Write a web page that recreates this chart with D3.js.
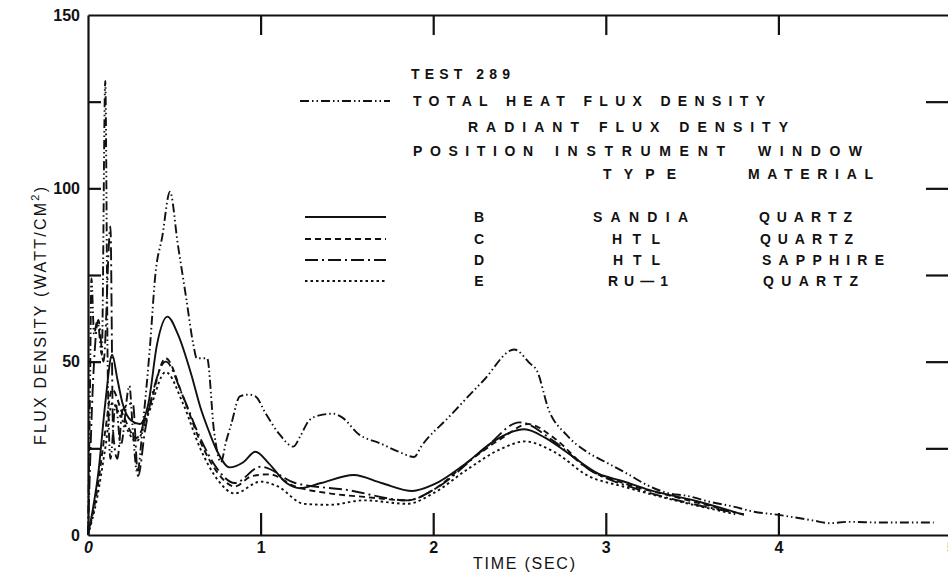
<!DOCTYPE html>
<html>
<head>
<meta charset="utf-8">
<script src="https://cdn.jsdelivr.net/npm/d3@7"></script>
<style>
  html, body { margin: 0; padding: 0; background: #fff; }
  svg { display: block; }
  text { font-family: "Liberation Sans", Arial, Helvetica, sans-serif; fill: #111; }
</style>
</head>
<body>
<svg id="chart" width="948" height="575"></svg>
<script>
// ---- data ---------------------------------------------------------------
// time (s), flux density (W/cm^2)
const totalHeatFlux = [
  [0,0],[0.01,35],[0.02,74],[0.035,58],[0.055,62],[0.08,52],[0.1,131],[0.115,45],
  [0.13,22],[0.16,38],[0.19,26],[0.24,43],[0.26,30],[0.285,18],[0.32,33],[0.36,55],
  [0.39,75],[0.43,86],[0.475,99],[0.52,84],[0.57,68],[0.61,55],[0.63,51],[0.69,51],
  [0.73,30],[0.77,21],[0.8,27],[0.83,32],[0.88,40],[0.93,40.5],[0.97,40],[1.03,35],
  [1.11,29],[1.19,25.5],[1.23,28.5],[1.28,33],[1.34,34.5],[1.42,35],[1.47,34],
  [1.57,29],[1.69,26.5],[1.8,24],[1.89,22.5],[1.93,25.5],[2.09,34],[2.29,44.5],
  [2.47,53.5],[2.56,49.5],[2.6,47.5],[2.67,36],[2.77,29],[2.89,24],[3.0,21],
  [3.12,17.8],[3.24,14.4],[3.35,12.2],[3.48,11.2],[3.6,9.6],[3.74,8.2],[3.85,6.8],
  [4.0,5.8],[4.2,4.2],[4.3,3.4],[4.4,3.8],[4.6,3.6],[4.9,3.6]
];
const seriesB = [
  [0,0],[0.03,8],[0.06,18],[0.1,38],[0.14,52],[0.17,45],[0.2,38],[0.25,33],[0.3,32],
  [0.35,38],[0.4,55],[0.46,63],[0.52,58],[0.6,46],[0.65,37],[0.7,30],[0.75,24],
  [0.82,19.5],[0.9,21],[0.97,24],[1.05,20.5],[1.15,15],[1.23,13.5],[1.35,15],
  [1.54,17.3],[1.7,15],[1.88,12.7],[2.0,14.5],[2.19,20.7],[2.35,27],[2.53,30.5],
  [2.65,28],[2.77,24],[2.96,17.6],[3.1,15.5],[3.25,13],[3.54,9.6],[3.8,5.8]
];
const seriesC = [
  [0,0],[0.05,12],[0.1,30],[0.14,42],[0.2,35],[0.28,28],[0.35,36],[0.45,51],
  [0.55,40],[0.65,27],[0.75,18],[0.85,14],[0.95,17],[1.05,17.5],[1.2,14],[1.4,12],
  [1.6,11],[1.85,10],[2.0,13],[2.2,21],[2.4,28],[2.55,32],[2.7,28],[2.9,19],
  [3.1,15],[3.4,11],[3.75,6.5]
];
const seriesD = [
  [0,0],[0.03,45],[0.06,62],[0.09,50],[0.13,89],[0.145,30],[0.17,22],[0.2,36],
  [0.26,38],[0.29,17],[0.33,30],[0.38,42],[0.45,50],[0.55,40],[0.65,28],[0.75,19],
  [0.85,15],[1.0,19.7],[1.2,15],[1.5,13],[1.85,10],[2.0,13],[2.3,25],[2.5,32.5],
  [2.7,27],[2.9,19],[3.2,13],[3.5,9],[3.8,6]
];
const seriesE = [
  [0,0],[0.05,10],[0.1,25],[0.14,38],[0.2,33],[0.28,27],[0.35,35],[0.45,47],
  [0.55,38],[0.65,25],[0.75,16],[0.85,12],[1.0,15.4],[1.1,14],[1.25,9],[1.4,8.7],
  [1.6,10],[1.85,9],[2.0,12],[2.2,19],[2.4,25],[2.53,27],[2.7,24],[2.9,17],
  [3.1,14],[3.4,10],[3.75,6]
];

const positions   = ["B", "C", "D", "E"];
const instruments = ["SANDIA", "HTL", "HTL", "RU\u20141"];
const windows     = ["QUARTZ", "QUARTZ", "SAPPHIRE", "QUARTZ"];

const xTicks = [0, 1, 2, 3, 4, 5];
const yTicks = [0, 25, 50, 75, 100, 125, 150];
const yLabelled = [0, 50, 100, 150];

// ---- layout -------------------------------------------------------------
const svg = d3.select("#chart");
const x = d3.scaleLinear().domain([0, 5]).range([88, 951]);
const y = d3.scaleLinear().domain([0, 150]).range([535, 15]);

const ink = "#111";
const frame = svg.append("g");

// bottom axis: ticks point up into the plot
const gx = frame.append("g").attr("transform", `translate(0,${y(0)})`)
  .call(d3.axisBottom(x).tickValues(xTicks).tickSizeInner(-22).tickSizeOuter(0)
        .tickPadding(7).tickFormat(d3.format("d")));
gx.selectAll(".tick line").attr("display", d => (d === 0 || d === 5) ? "none" : null);

// top axis
frame.append("g").attr("transform", `translate(0,${y(150)})`)
  .call(d3.axisTop(x).tickValues([1, 2, 3, 4]).tickSizeInner(-20).tickSizeOuter(0).tickFormat(""));

// left axis: short inward ticks every 25, labels every 50
const gy = frame.append("g").attr("transform", `translate(${x(0)},0)`)
  .call(d3.axisLeft(y).tickValues(yTicks).tickSizeInner(-13).tickSizeOuter(0).tickPadding(8)
        .tickFormat(d => yLabelled.includes(d) ? d : ""));
gy.selectAll(".tick line").attr("display", d => (d === 0 || d === 150) ? "none" : null);

// right axis: longer inward ticks
frame.append("g").attr("transform", `translate(${x(5)},0)`)
  .call(d3.axisRight(y).tickValues([25, 50, 75, 100, 125]).tickSizeInner(-25).tickSizeOuter(0).tickFormat(""));

frame.selectAll(".domain").attr("stroke", ink).attr("stroke-width", 2.2);
frame.selectAll(".tick line").attr("stroke", ink).attr("stroke-width", 2.2);
frame.selectAll(".tick text")
  .attr("font-family", "'Liberation Sans', Arial, sans-serif")
  .attr("font-weight", "bold").attr("font-size", 16).attr("fill", ink);
gx.selectAll(".tick text").filter(d => d === 0).attr("font-style", "italic");

// axis titles
svg.append("text")
  .attr("x", 524).attr("y", 569)
  .attr("text-anchor", "middle").attr("font-size", 16)
  .attr("textLength", 102).attr("lengthAdjust", "spacing")
  .text("TIME (SEC)");

const yt = svg.append("text")
  .attr("transform", "translate(46,316) rotate(-90)")
  .attr("text-anchor", "middle").attr("font-size", 16)
  .attr("textLength", 258).attr("lengthAdjust", "spacing");
yt.append("tspan").text("FLUX DENSITY (WATT/CM");
yt.append("tspan").attr("dy", -7).attr("font-size", 11).text("2");
yt.append("tspan").attr("dy", 7).text(")");

// ---- curves -------------------------------------------------------------
const line = d3.line().x(d => x(d[0])).y(d => y(d[1])).curve(d3.curveMonotoneX);

const styles = {
  total: "9,3,1.5,3,1.5,3",
  B: null,
  C: "6,4",
  D: "13,4,2,4",
  E: "2.5,3"
};

const curves = [
  [totalHeatFlux, styles.total],
  [seriesB, styles.B],
  [seriesC, styles.C],
  [seriesD, styles.D],
  [seriesE, styles.E]
];

svg.append("g").selectAll("path").data(curves).join("path")
  .attr("d", d => line(d[0]))
  .attr("fill", "none").attr("stroke", ink).attr("stroke-width", 1.9)
  .attr("stroke-linejoin", "round")
  .attr("stroke-dasharray", d => d[1]);

// ---- legend -------------------------------------------------------------
const lg = svg.append("g").attr("font-weight", "bold").attr("font-size", 14);

function label(txt, x0, width, yy) {
  lg.append("text").attr("x", x0).attr("y", yy)
    .attr("textLength", width).attr("lengthAdjust", "spacing")
    .text(txt);
}

label("TEST 289", 411, 99, 79);
label("TOTAL HEAT FLUX DENSITY", 413, 352, 106);
label("RADIANT FLUX DENSITY", 468, 320, 132);
label("POSITION", 413, 120, 156);
label("INSTRUMENT", 555, 170, 156);
label("WINDOW", 758, 104, 156);
label("TYPE", 603, 73, 179);
label("MATERIAL", 748, 125, 179);

svg.append("line")
  .attr("x1", 300).attr("x2", 390).attr("y1", 101).attr("y2", 101)
  .attr("stroke", ink).attr("stroke-width", 1.9).attr("stroke-dasharray", styles.total);

const rowY = [222, 244, 265, 286];
const rowStyles = [styles.B, styles.C, styles.D, styles.E];
const instX = [[593, 95], [612, 48], [613, 47], [608, 60]];
const winX  = [[759, 93], [760, 93], [762, 122], [763, 95]];

positions.forEach((p, i) => {
  svg.append("line")
    .attr("x1", 305).attr("x2", 386).attr("y1", rowY[i] - 5).attr("y2", rowY[i] - 5)
    .attr("stroke", ink).attr("stroke-width", 1.9).attr("stroke-dasharray", rowStyles[i]);
  lg.append("text").attr("x", 479).attr("y", rowY[i]).attr("text-anchor", "middle").text(p);
  label(instruments[i], instX[i][0], instX[i][1], rowY[i]);
  label(windows[i], winX[i][0], winX[i][1], rowY[i]);
});
</script>
</body>
</html>
